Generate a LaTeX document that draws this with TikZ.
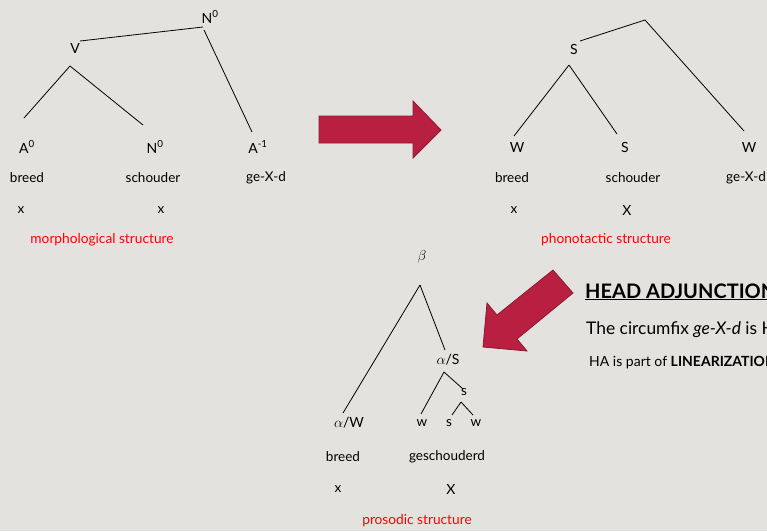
\documentclass[tikz,border=0pt]{standalone}
\usepackage{fontspec}
\setmainfont{Lato}
\begin{document}
\begin{tikzpicture}[x=1pt,y=-1pt,
  lbl/.style={inner sep=0pt,anchor=center,font=\fontsize{14}{16}\selectfont},
  word/.style={inner sep=0pt,anchor=center,font=\fontsize{13.5}{15}\selectfont},
  redcaption/.style={inner sep=0pt,anchor=center,text=red,font=\fontsize{13.7}{15}\selectfont},
  branch/.style={draw=black,line width=0.8pt},
  bigarrow/.style={fill=arrowred,draw=arrowdark,line width=0.8pt,line join=miter}]
\definecolor{bg}{HTML}{E4E2DF}
\definecolor{arrowred}{HTML}{B81F40}
\definecolor{arrowdark}{HTML}{8C1A30}
\useasboundingbox (0,0) rectangle (767,531);
\fill[bg] (0,0) rectangle (767,531);
\clip (0,0) rectangle (767,531);

% ---------- morphological structure ----------
\node[lbl] (mN) at (210,17) {N\textsuperscript{0}};
\node[lbl] (mV) at (75,48) {V};
\node[lbl] (mA0) at (27,147) {A\textsuperscript{0}};
\node[lbl] (mN0) at (155,147) {N\textsuperscript{0}};
\node[lbl] (mA1) at (258,147) {A\textsuperscript{-1}};
\node[word] (mw1) at (27,178) {breed};
\node[word] (mw2) at (153,178) {schouder};
\node[word] (mw3) at (266,178) {ge-X-d};
\node[word] (mx1) at (21,210) {x};
\node[word] (mx2) at (161,210) {x};
\node[redcaption] (mcap) at (102,240) {morphological structure};
\coordinate (mNb) at (203,27);
\coordinate (mNc) at (204,30);
\coordinate (mVt) at (80,41);
\coordinate (mVb) at (70,66);
\coordinate (mA0t) at (24,118);
\coordinate (mN0t) at (143,125);
\coordinate (mA1t) at (252,132);
\draw[branch] (mVt) -- (mNb);
\draw[branch] (mNc) -- (mA1t);
\draw[branch] (mVb) -- (mA0t);
\draw[branch] (mVb) -- (mN0t);

% ---------- phonotactic structure ----------
\coordinate (pTop) at (645,20);
\node[lbl] (pS) at (574,49) {S};
\node[lbl] (pW1) at (517,147) {W};
\node[lbl] (pS2) at (625,147) {S};
\node[lbl] (pW2) at (749,147) {W};
\node[word] (pw1) at (512,178) {breed};
\node[word] (pw2) at (633,178) {schouder};
\node[word,anchor=west] (pw3) at (726,178) {ge-X-d};
\node[word] (px1) at (514,210) {x};
\node[lbl] (px2) at (627,210) {X};
\node[redcaption] (pcap) at (606,240) {phonotactic structure};
\coordinate (pSt) at (580,41);
\coordinate (pSb) at (569,65);
\coordinate (pW1t) at (514,136);
\coordinate (pS2t) at (617,134);
\coordinate (pW2t) at (744,131);
\draw[branch] (pSt) -- (pTop) -- (pW2t);
\draw[branch] (pSb) -- (pW1t);
\draw[branch] (pSb) -- (pS2t);

% ---------- prosodic structure ----------
\node[lbl] (rB) at (422,257) {$\beta$};
\node[lbl] (rAS) at (448,360) {$\alpha$/S};
\node[word] (rs) at (464,392) {s};
\node[lbl] (rAW) at (349,423) {$\alpha$/W};
\node[word] (rw1) at (422,423) {w};
\node[word] (rs2) at (449,423) {s};
\node[word] (rw2) at (476,423) {w};
\node[word] (rv1) at (343,457) {breed};
\node[word] (rv2) at (447,457) {geschouderd};
\node[word] (rx1) at (338,489) {x};
\node[lbl] (rx2) at (451,489) {X};
\node[redcaption] (rcap) at (417,521) {prosodic structure};
\coordinate (rBb) at (420,285);
\coordinate (rAWt) at (343,413);
\coordinate (rASt) at (445,350);
\coordinate (rASb) at (444,372);
\coordinate (rw1t) at (421,414);
\coordinate (rst) at (463,389);
\coordinate (rsb) at (461,402);
\coordinate (rs2t) at (452,415);
\coordinate (rw2t) at (473,415);
\draw[branch] (rBb) -- (rAWt);
\draw[branch] (rBb) -- (rASt);
\draw[branch] (rASb) -- (rw1t);
\draw[branch] (rASb) -- (rst);
\draw[branch] (rsb) -- (rs2t);
\draw[branch] (rsb) -- (rw2t);

% ---------- block arrows ----------
\draw[bigarrow] (319,116) -- (413,116) -- (413,101) -- (441,130) -- (413,158)
  -- (413,143) -- (319,143) -- cycle;
\draw[bigarrow] (553,270) -- (573,293) -- (517,339) -- (527,351) -- (483,347)
  -- (487,303) -- (497,315) -- cycle;

% ---------- explanation text ----------
\node[inner sep=0pt,anchor=base west,font=\fontsize{20}{23}\selectfont\bfseries] (ha)
  at (585,298) {\underline{HEAD ADJUNCTION}};
\node[inner sep=0pt,anchor=base west,font=\fontsize{17.4}{20}\selectfont] (circ)
  at (586,334) {The circumfix \textit{ge-X-d} is H};
\node[inner sep=0pt,anchor=base west,font=\fontsize{14}{16}\selectfont] (lin)
  at (589,366) {HA is part of \textbf{LINEARIZATION}};
\end{tikzpicture}
\end{document}
